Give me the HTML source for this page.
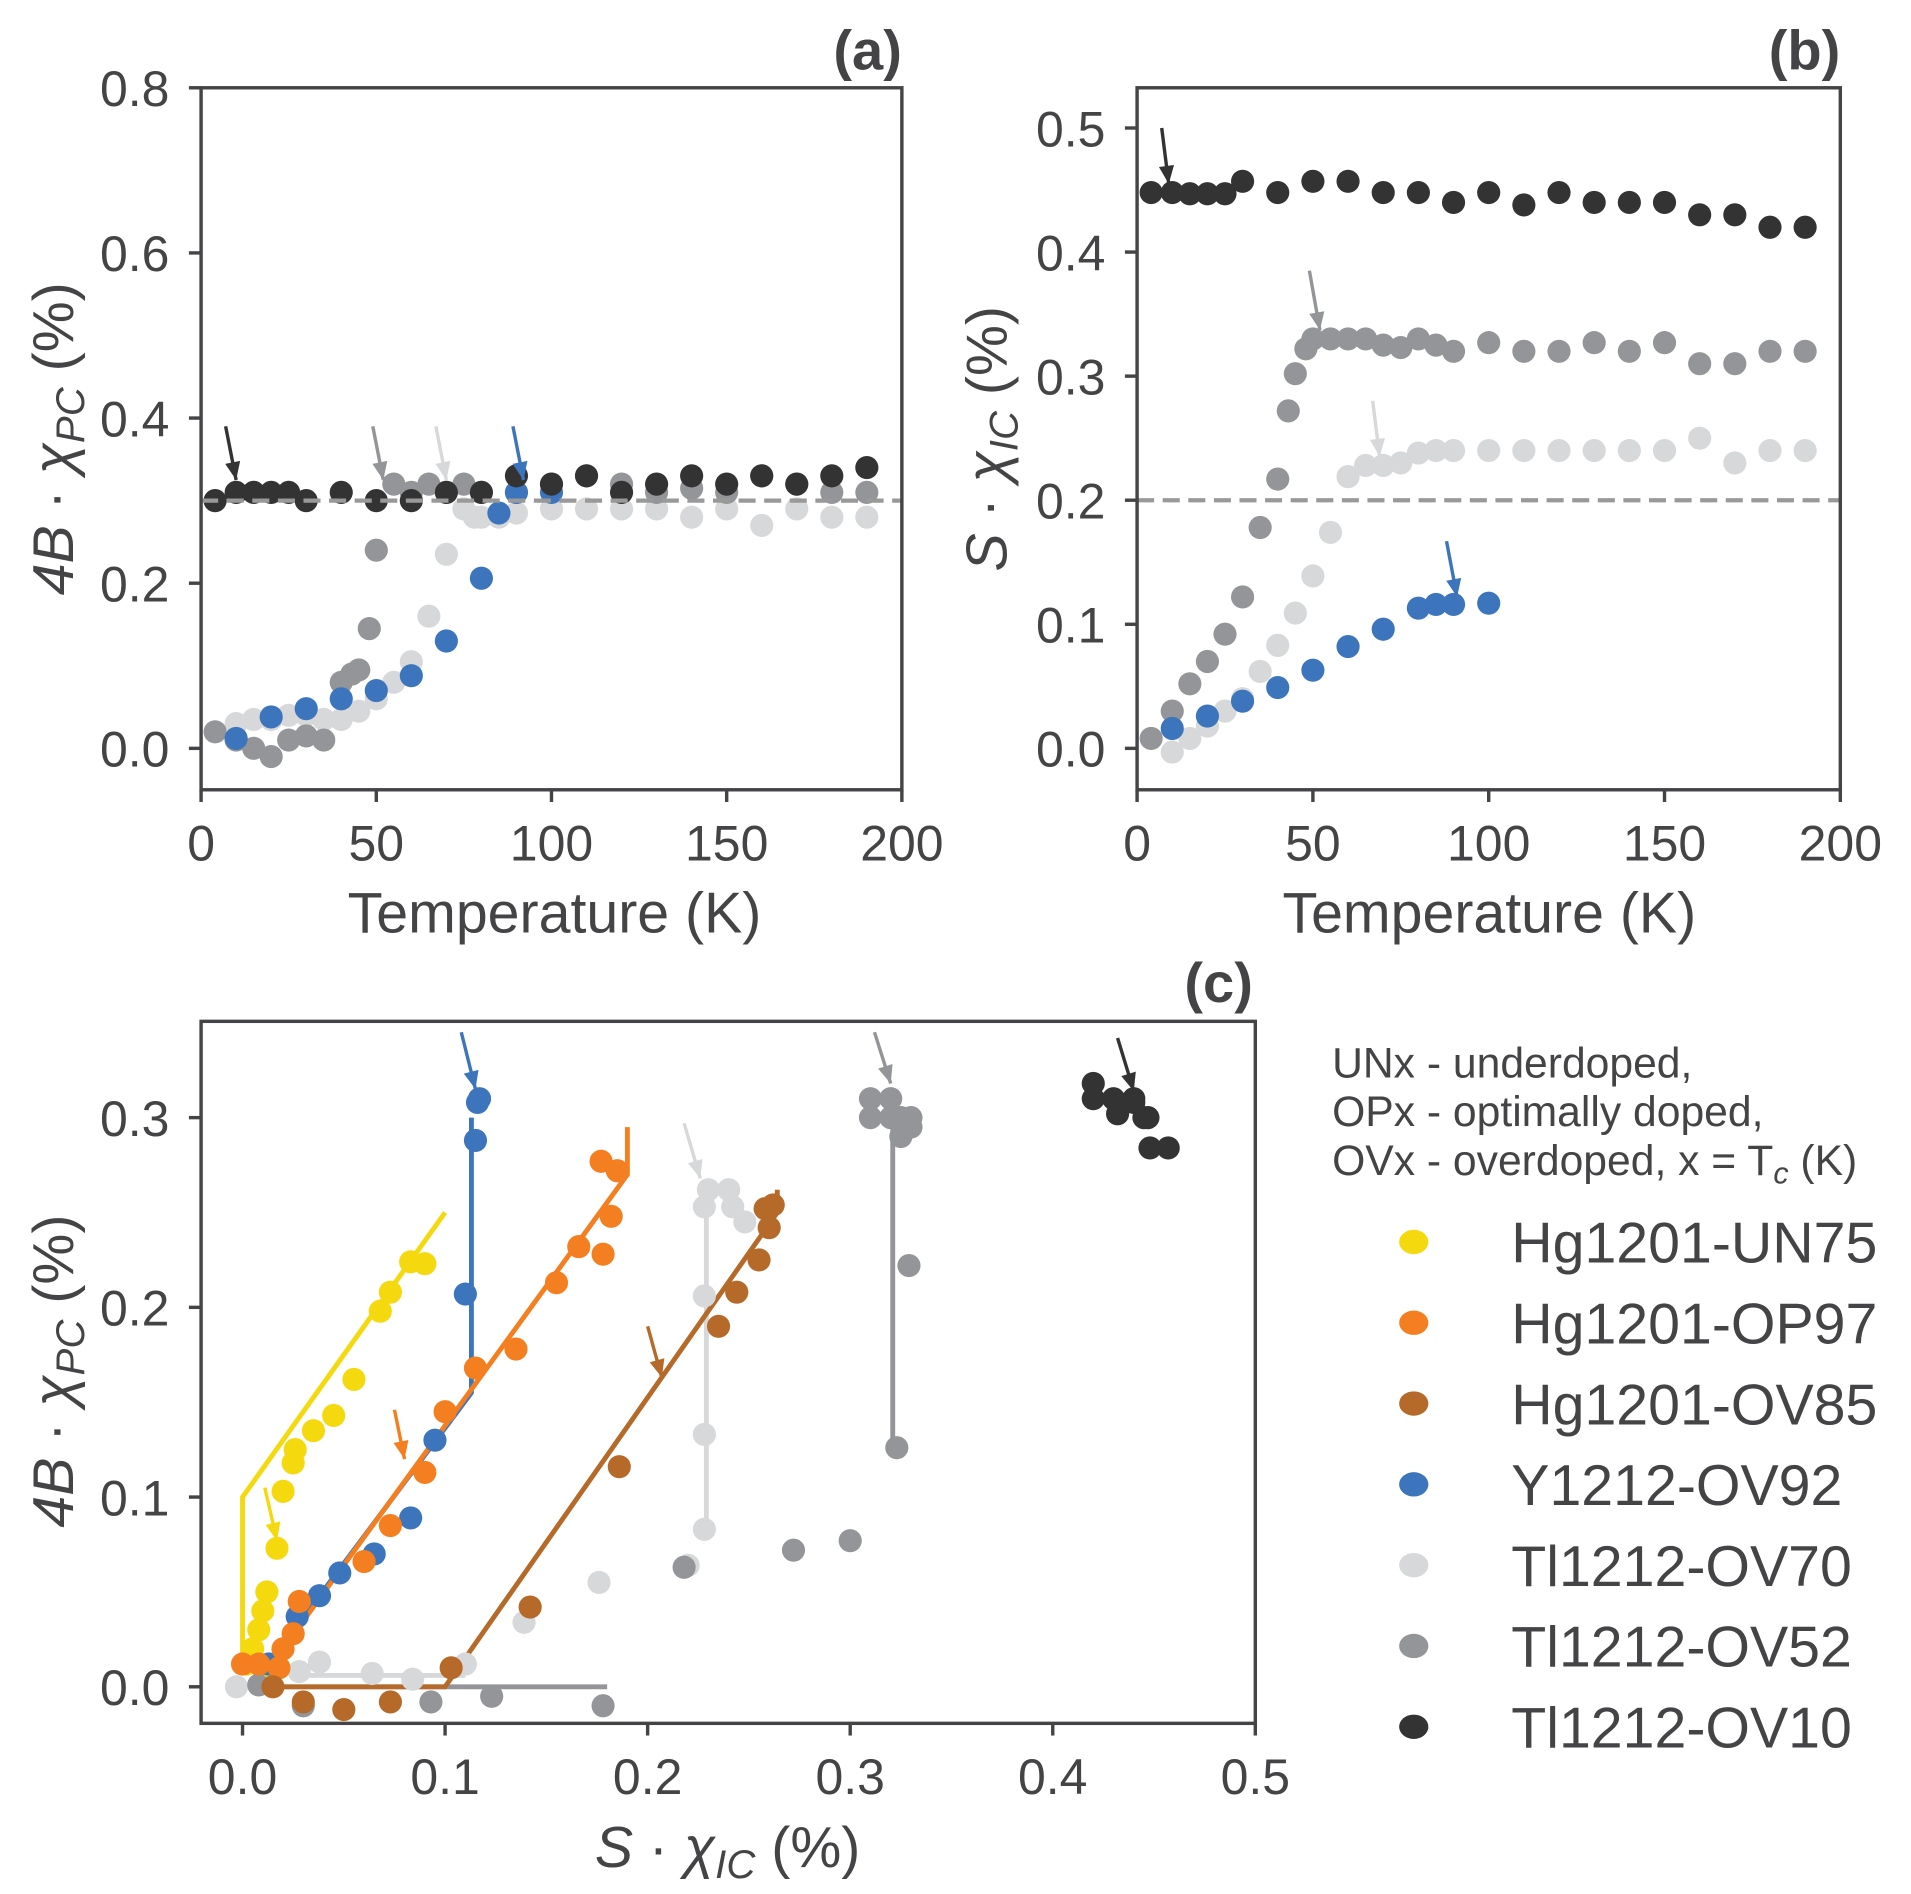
<!DOCTYPE html>
<html><head><meta charset="utf-8"><style>
html,body{margin:0;padding:0;background:#fff;}
svg{display:block;font-family:"Liberation Sans",Arial,sans-serif;}
</style></head><body>
<svg id="fig" width="1911" height="1894" viewBox="0 0 1568 1554" xmlns="http://www.w3.org/2000/svg"></svg>
<script>
// ---------- DATA ----------
var tA_dark=[4,10,15,20,25,30,40,50,60,70,80,90,100,110,120,130,140,150,160,170,180,190];
var vA_dark=[0.30,0.31,0.31,0.31,0.31,0.30,0.31,0.30,0.30,0.31,0.31,0.33,0.32,0.33,0.31,0.32,0.33,0.32,0.33,0.32,0.33,0.34];
var tA_gray=[4,10,15,20,25,30,35,40,43,45,48,50,55,60,65,70,75,80,90,100,110,120,130,140,150,160,170,180,190];
var vA_gray=[0.02,0.01,0.0,-0.01,0.01,0.015,0.01,0.08,0.09,0.095,0.145,0.24,0.32,0.31,0.32,0.31,0.32,0.31,0.31,0.32,0.33,0.32,0.31,0.315,0.31,0.33,0.32,0.31,0.31];
var tA_light=[10,15,20,25,30,35,40,45,50,55,60,65,70,75,78,80,85,90,100,110,120,130,140,150,160,170,180,190];
var vA_light=[0.03,0.035,0.035,0.04,0.04,0.035,0.035,0.045,0.06,0.08,0.105,0.16,0.235,0.29,0.28,0.28,0.28,0.285,0.29,0.29,0.29,0.29,0.28,0.29,0.27,0.29,0.28,0.28];
var tA_blue=[10,20,30,40,50,60,70,80,85,90,100];
var vA_blue=[0.012,0.038,0.048,0.06,0.07,0.088,0.13,0.206,0.285,0.31,0.31];

var tB_dark=[4,10,15,20,25,30,40,50,60,70,80,90,100,110,120,130,140,150,160,170,180,190];
var vB_dark=[0.448,0.448,0.447,0.447,0.447,0.457,0.448,0.457,0.457,0.448,0.448,0.44,0.448,0.438,0.448,0.44,0.44,0.44,0.43,0.43,0.42,0.42];
var tB_gray=[4,10,15,20,25,30,35,40,43,45,48,50,55,60,65,70,75,80,85,90,100,110,120,130,140,150,160,170,180,190];
var vB_gray=[0.008,0.03,0.052,0.07,0.092,0.122,0.178,0.217,0.272,0.302,0.322,0.33,0.33,0.33,0.33,0.325,0.323,0.33,0.325,0.32,0.327,0.32,0.32,0.327,0.32,0.327,0.31,0.31,0.32,0.32];
var tB_light=[10,15,20,25,30,35,40,45,50,55,60,65,70,75,80,85,90,100,110,120,130,140,150,160,170,180,190];
var vB_light=[-0.003,0.008,0.018,0.03,0.04,0.062,0.083,0.109,0.139,0.174,0.219,0.228,0.228,0.23,0.238,0.24,0.24,0.24,0.24,0.24,0.24,0.24,0.24,0.25,0.23,0.24,0.24];
var tB_blue=[10,20,30,40,50,60,70,80,85,90,100];
var vB_blue=[0.016,0.026,0.038,0.049,0.063,0.082,0.096,0.113,0.116,0.116,0.117];

var cYellowX=[0.002,0.005,0.008,0.01,0.012,0.015,0.017,0.02,0.025,0.026,0.035,0.045,0.055,0.068,0.073,0.083,0.09];
var cYellowY=[0.012,0.02,0.03,0.04,0.05,0.01,0.073,0.103,0.118,0.125,0.135,0.143,0.162,0.198,0.208,0.224,0.223];
var cOrangeX=[0.0,0.008,0.018,0.02,0.025,0.028,0.06,0.073,0.09,0.1,0.115,0.135,0.155,0.166,0.178,0.182,0.177,0.185];
var cOrangeY=[0.012,0.012,0.01,0.02,0.028,0.045,0.066,0.085,0.113,0.145,0.168,0.178,0.213,0.232,0.228,0.248,0.277,0.272];
var cBrownX=[0.015,0.03,0.05,0.073,0.103,0.142,0.186,0.235,0.244,0.255,0.26,0.258,0.262];
var cBrownY=[0.0,-0.008,-0.012,-0.008,0.01,0.042,0.116,0.19,0.208,0.225,0.242,0.252,0.254];
var cBlueX=[0.013,0.027,0.038,0.048,0.065,0.083,0.095,0.11,0.115,0.116,0.117];
var cBlueY=[0.012,0.037,0.048,0.06,0.07,0.089,0.13,0.207,0.288,0.308,0.31];
var cLightX=[-0.003,0.012,0.028,0.038,0.064,0.084,0.11,0.139,0.176,0.22,0.228,0.228,0.228,0.228,0.23,0.24,0.242,0.248];
var cLightY=[0.0,0.005,0.008,0.013,0.007,0.004,0.012,0.034,0.055,0.064,0.083,0.133,0.206,0.253,0.262,0.262,0.253,0.245];
var cGrayX=[0.008,0.03,0.093,0.123,0.178,0.218,0.272,0.3,0.323,0.329,0.31,0.31,0.32,0.325,0.33,0.33,0.325,0.32];
var cGrayY=[0.001,-0.01,-0.008,-0.005,-0.01,0.063,0.072,0.077,0.126,0.222,0.31,0.3,0.31,0.3,0.295,0.3,0.29,0.3];
var cDarkX=[0.42,0.42,0.43,0.432,0.44,0.445,0.447,0.448,0.457,0.44];
var cDarkY=[0.318,0.31,0.31,0.302,0.31,0.3,0.3,0.284,0.284,0.308];

var legendLabels=["Hg1201-UN75","Hg1201-OP97","Hg1201-OV85","Y1212-OV92","Tl1212-OV70","Tl1212-OV52","Tl1212-OV10"];
var ticksA_y=[0.0,0.2,0.4,0.6,0.8];
var ticksB_y=[0.0,0.1,0.2,0.3,0.4,0.5];
var ticksT=[0,50,100,150,200];
var ticksC_x=[0.0,0.1,0.2,0.3,0.4,0.5];
var ticksC_y=[0.0,0.1,0.2,0.3];

// ---------- HELPERS ----------
var C={yellow:"#f5d90f",orange:"#f47f20",brown:"#b56a2a",blue:"#3d75bd",light:"#d7d8da",gray:"#939598",dark:"#333333"};
var INK="#444446";
var svg=document.getElementById('fig');
var NS="http://www.w3.org/2000/svg";
function mk(tag,attrs,parent){var e=document.createElementNS(NS,tag);for(var k in attrs)e.setAttribute(k,attrs[k]);(parent||svg).appendChild(e);return e;}
function lin(d0,d1,p0,p1){return function(v){return p0+(v-d0)/(d1-d0)*(p1-p0);};}

function axesFrame(name,x0,y0,x1,y1){
  var r=mk('rect',{x:x0,y:y0,width:x1-x0,height:y1-y0,fill:'none',stroke:INK,'stroke-width':2.8});
  
  
}
function xTicks(name,vals,sx,yb,fmt,fs){
  var g=mk('g',{});
  
  
  vals.forEach(function(v){
    mk('line',{x1:sx(v),x2:sx(v),y1:yb,y2:yb+10,stroke:INK,'stroke-width':2.8},g);
    var t=mk('text',{x:sx(v),y:yb+58,'text-anchor':'middle','font-size':fs,fill:INK},g);
    t.textContent=fmt(v);
  });
}
function yTicks(name,vals,sy,xl,fmt,fs){
  var g=mk('g',{});
  
  
  vals.forEach(function(v){
    mk('line',{x1:xl-10,x2:xl,y1:sy(v),y2:sy(v),stroke:INK,'stroke-width':2.8},g);
    var t=mk('text',{x:xl-26,y:sy(v)+15,'text-anchor':'end','font-size':fs,fill:INK},g);
    t.textContent=fmt(v);
  });
}
function scatter(name,xs,ys,sx,sy,color){
  var g=mk('g',{});
  
  
  for(var i=0;i<xs.length;i++){
    var c=mk('circle',{cx:sx(xs[i]),cy:sy(ys[i]),r:9.5,fill:color},g);
    
    
  }
}
function arrow(name,x0,y0,x1,y1,color){
  var g=mk('g',{});
  
  
  mk('line',{x1:x0,y1:y0,x2:x1,y2:y1,stroke:color,'stroke-width':2.8},g);
  var a=Math.atan2(y1-y0,x1-x0),L=16,w=0.4;
  mk('polygon',{points:x1+','+y1+' '+(x1-L*Math.cos(a-w))+','+(y1-L*Math.sin(a-w))+' '+(x1-L*Math.cos(a+w))+','+(y1-L*Math.sin(a+w)),fill:color},g);
}
function poly(name,xs,ys,sx,sy,color){
  var p=xs.map(function(x,i){return sx(x)+','+sy(ys[i]);}).join(' ');
  var e=mk('polyline',{points:p,fill:'none',stroke:color,'stroke-width':4});
  
  
}
function txt(name,x,y,s,attrs){
  var t=mk('text',Object.assign({x:x,y:y,fill:INK},attrs));
  t.innerHTML=s;
  
  
  return t;
}
var f1=function(v){return v.toFixed(1);};
var f0=function(v){return String(v);};

// ---------- PANEL A ----------
var axA=lin(0,200,165,740), ayA=lin(0,0.8,614,72);
scatter('a-series-ov70',tA_light,vA_light,axA,ayA,C.light);
scatter('a-series-ov52',tA_gray,vA_gray,axA,ayA,C.gray);
scatter('a-series-ov92',tA_blue,vA_blue,axA,ayA,C.blue);
scatter('a-series-ov10',tA_dark,vA_dark,axA,ayA,C.dark);
var dA=mk('line',{x1:165,x2:740,y1:ayA(0.3),y2:ayA(0.3),stroke:'#999',"stroke-width":3.5,"stroke-dasharray":"14,7"});


arrow('a-arrow-ov10',axA(7),ayA(0.39),axA(10),ayA(0.325),C.dark);
arrow('a-arrow-ov52',axA(49),ayA(0.39),axA(52),ayA(0.325),C.gray);
arrow('a-arrow-ov70',axA(67),ayA(0.39),axA(70),ayA(0.325),C.light);
arrow('a-arrow-ov92',axA(89),ayA(0.39),axA(92),ayA(0.325),C.blue);
axesFrame('a',165,72,740,648);
xTicks('a',ticksT,axA,648,f0,41);
yTicks('a',ticksA_y,ayA,165,f1,41);
txt('a-x-axis-title',455,765,'Temperature (K)',{'text-anchor':'middle','font-size':47});
txt('a-y-axis-title',0,0,'<tspan font-style="italic">4B</tspan> · <tspan font-style="italic">χ</tspan><tspan font-style="italic" font-size="33" dy="9">PC</tspan><tspan dy="-9"> (%)</tspan>',{'text-anchor':'middle','font-size':47,transform:'translate(60,360) rotate(-90)'});
txt('a-panel-label',740,57,'(a)',{'text-anchor':'end','font-size':46,'font-weight':'bold'});

// ---------- PANEL B ----------
var axB=lin(0,200,933,1510), ayB=lin(0,0.5,614,105);
scatter('b-series-ov70',tB_light,vB_light,axB,ayB,C.light);
scatter('b-series-ov52',tB_gray,vB_gray,axB,ayB,C.gray);
scatter('b-series-ov92',tB_blue,vB_blue,axB,ayB,C.blue);
scatter('b-series-ov10',tB_dark,vB_dark,axB,ayB,C.dark);
var dB=mk('line',{x1:933,x2:1510,y1:ayB(0.2),y2:ayB(0.2),stroke:'#999',"stroke-width":3.5,"stroke-dasharray":"14,7"});


arrow('b-arrow-ov10',axB(7),ayB(0.5),axB(9),ayB(0.455),C.dark);
arrow('b-arrow-ov52',axB(49),ayB(0.385),axB(52),ayB(0.337),C.gray);
arrow('b-arrow-ov70',axB(67),ayB(0.28),axB(69),ayB(0.235),C.light);
arrow('b-arrow-ov92',axB(88),ayB(0.167),axB(91),ayB(0.122),C.blue);
axesFrame('b',933,72,1510,648);
xTicks('b',ticksT,axB,648,f0,41);
yTicks('b',ticksB_y,ayB,933,f1,41);
txt('b-x-axis-title',1222,765,'Temperature (K)',{'text-anchor':'middle','font-size':47});
txt('b-y-axis-title',0,0,'<tspan font-style="italic">S</tspan> · <tspan font-style="italic">χ</tspan><tspan font-style="italic" font-size="33" dy="9">IC</tspan><tspan dy="-9"> (%)</tspan>',{'text-anchor':'middle','font-size':47,transform:'translate(826,360) rotate(-90)'});
txt('b-panel-label',1510,57,'(b)',{'text-anchor':'end','font-size':46,'font-weight':'bold'});

// ---------- PANEL C ----------
var axC=lin(0,0.5,199,1030), ayC=lin(0,0.3,1384,917);
poly('c-fit-ov52',[0.02,0.18],[0,0],axC,ayC,C.gray);
poly('c-fit-ov70',[0.03,0.11],[0.006,0.006],axC,ayC,C.light);
poly('c-fit-ov70-vertical',[0.229,0.229],[0.083,0.26],axC,ayC,C.light);
poly('c-fit-ov52-vertical',[0.321,0.321],[0.126,0.3],axC,ayC,C.gray);
poly('c-fit-un75',[0,0,0.1],[0.01,0.1,0.25],axC,ayC,C.yellow);
poly('c-fit-ov92',[0.015,0.113,0.113],[0.015,0.155,0.3],axC,ayC,C.blue);
poly('c-fit-op97',[0.02,0.19,0.19],[0.02,0.27,0.295],axC,ayC,C.orange);
poly('c-fit-ov85',[0.02,0.1,0.264,0.264],[0,0,0.25,0.262],axC,ayC,C.brown);
scatter('c-series-ov70',cLightX,cLightY,axC,ayC,C.light);
scatter('c-series-ov52',cGrayX,cGrayY,axC,ayC,C.gray);
scatter('c-series-un75',cYellowX,cYellowY,axC,ayC,C.yellow);
scatter('c-series-ov92',cBlueX,cBlueY,axC,ayC,C.blue);
scatter('c-series-op97',cOrangeX,cOrangeY,axC,ayC,C.orange);
scatter('c-series-ov85',cBrownX,cBrownY,axC,ayC,C.brown);
scatter('c-series-ov10',cDarkX,cDarkY,axC,ayC,C.dark);
arrow('c-arrow-un75',axC(0.011),ayC(0.105),axC(0.017),ayC(0.077),C.yellow);
arrow('c-arrow-op97',axC(0.075),ayC(0.146),axC(0.08),ayC(0.12),C.orange);
arrow('c-arrow-ov85',axC(0.2),ayC(0.19),axC(0.207),ayC(0.163),C.brown);
arrow('c-arrow-ov92',axC(0.108),ayC(0.345),axC(0.115),ayC(0.315),C.blue);
arrow('c-arrow-ov70',axC(0.218),ayC(0.297),axC(0.226),ayC(0.268),C.light);
arrow('c-arrow-ov52',axC(0.312),ayC(0.345),axC(0.32),ayC(0.318),C.gray);
arrow('c-arrow-ov10',axC(0.432),ayC(0.342),axC(0.44),ayC(0.314),C.dark);
var mskTop=mk('rect',{x:0,y:780,width:1568,height:56,fill:'#fff'});


var mskBot=mk('rect',{x:160,y:1415,width:880,height:20,fill:'#fff'});


axesFrame('c',165,838,1030,1414);
xTicks('c',ticksC_x,axC,1414,f1,41);
yTicks('c',ticksC_y,ayC,165,f1,41);
txt('c-x-axis-title',597,1532,'<tspan font-style="italic">S</tspan> · <tspan font-style="italic">χ</tspan><tspan font-style="italic" font-size="33" dy="9">IC</tspan><tspan dy="-9"> (%)</tspan>',{'text-anchor':'middle','font-size':47});
txt('c-y-axis-title',0,0,'<tspan font-style="italic">4B</tspan> · <tspan font-style="italic">χ</tspan><tspan font-style="italic" font-size="33" dy="9">PC</tspan><tspan dy="-9"> (%)</tspan>',{'text-anchor':'middle','font-size':47,transform:'translate(60,1125) rotate(-90)'});
txt('c-panel-label',1028,822,'(c)',{'text-anchor':'end','font-size':46,'font-weight':'bold'});

// ---------- LEGEND ----------
txt('legend-note-underdoped',1093,884,'UNx - underdoped,',{'font-size':35});
txt('legend-note-optimal',1093,924,'OPx - optimally doped,',{'font-size':35});
txt('legend-note-overdoped',1093,964,'OVx - overdoped,  x = T<tspan font-style="italic" font-size="25" dy="7">c</tspan><tspan dy="-7"> (K)</tspan>',{'font-size':35});
var legCols=[C.yellow,C.orange,C.brown,C.blue,C.light,C.gray,C.dark];
legendLabels.forEach(function(l,i){
  var y=1019+i*66.3;
  var g=mk('g',{});
  
  
  mk('ellipse',{cx:1160,cy:y,rx:12,ry:10,fill:legCols[i]},g);
  var t=mk('text',{x:1240,y:y+17,'font-size':47,fill:INK},g);
  t.textContent=l;
});
</script>
</body></html>
